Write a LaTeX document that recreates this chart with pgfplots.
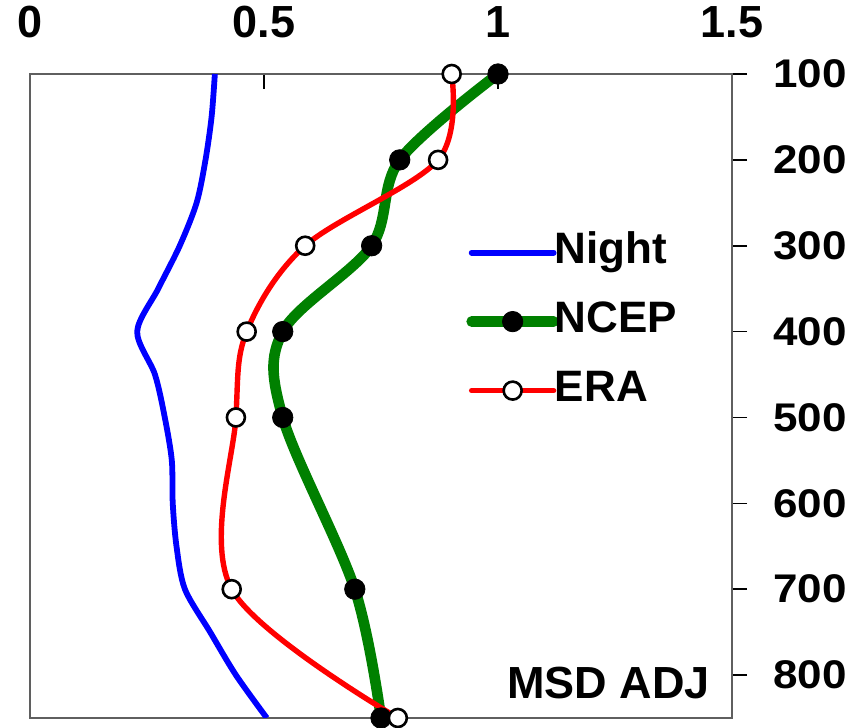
\documentclass[border=0pt]{standalone}
\usepackage{fontspec}
\setmainfont{Liberation Sans}
\usepackage{graphicx}
\usepackage{pgfplots}
\pgfplotsset{compat=1.18}
\newcommand\bigf{\fontsize{22}{26}\selectfont\bfseries}
\newcommand\topf{\fontsize{22.5}{26}\selectfont\bfseries}
\newcommand\rightf{\fontsize{20}{24}\selectfont\bfseries}
\newcommand\msdf{\fontsize{22.5}{26}\selectfont\bfseries}
\definecolor{axgray}{RGB}{95,95,95}
\definecolor{ncepgreen}{RGB}{0,128,0}
\begin{document}
\begin{tikzpicture}
\begin{axis}[
  scale only axis, width=351pt, height=322pt,
  xmin=0, xmax=1.5, ymin=100, ymax=850, y dir=reverse,
  xtick={0,0.5,1,1.5}, ytick={100,200,...,800},
  xticklabels={0,0.5,1,1.5},
  yticklabels={\scalebox{1.1}[1]{100},\scalebox{1.1}[1]{200},\scalebox{1.1}[1]{300},\scalebox{1.1}[1]{400},\scalebox{1.1}[1]{500},\scalebox{1.1}[1]{600},\scalebox{1.1}[1]{700},\scalebox{1.1}[1]{800}},
  xticklabel pos=upper, xtick pos=upper,
  yticklabel pos=right, ytick pos=right,
  tick align=inside, major tick length=7.5pt,
  tick style={black, line width=0.8pt},
  ytick style={xshift=7.5pt},
  /pgf/number format/assume math mode=true,
  xticklabel style={font=\topf, yshift=14.5pt},
  yticklabel style={font=\rightf, xshift=17pt},
  axis line style={draw=axgray, line width=1.3pt},
  legend style={draw=none, fill=none, at={(0.621,0.759)}, anchor=north west,
    font=\bigf, row sep=11.5pt, inner sep=0pt,
    nodes={inner sep=1pt, text height=16pt, text depth=5pt},
    /tikz/every odd column/.append style={column sep=-3pt},
    /tikz/every even column/.append style={column sep=0pt}},
  legend cell align=left,
  legend image code/.code={\draw[mark repeat=2,mark phase=2,line cap=round] plot coordinates {(0pt,0pt) (20.5pt,0pt) (41pt,0pt)};},
]
\addplot[blue, line width=2.9pt, smooth, tension=0.5, no marks] coordinates {
(0.395,100) (0.388,150) (0.375,200) (0.356,250) (0.320,300) (0.274,350)
(0.229,400) (0.267,450) (0.288,500) (0.303,550) (0.305,600) (0.313,650)
(0.331,700) (0.385,750) (0.440,800) (0.506,850)};
\addlegendentry{Night}
\addplot[ncepgreen, line width=5.3pt, smooth, tension=0.55, mark=*,
  mark size=5.1pt, mark options={fill=black, draw=black, line width=0.4pt}] coordinates {
(1.000,100) (0.790,200) (0.730,300) (0.540,400) (0.540,500) (0.694,700) (0.750,850)};
\addlegendentry{NCEP}
\addplot[red, line width=2.7pt, smooth, tension=0.55, mark=*,
  mark size=4.5pt, mark options={fill=white, draw=black, line width=1.3pt}] coordinates {
(0.901,100) (0.872,200) (0.588,300) (0.463,400) (0.440,500) (0.431,700) (0.786,850)};
\addlegendentry{ERA}
\node[anchor=base east, font=\msdf, inner sep=0pt] at (rel axis cs:0.969,0.031) {MSD ADJ};
\end{axis}
\pgfresetboundingbox
\path[use as bounding box] ([shift={(-15pt,-5pt)}]current axis.south west) rectangle ([shift={(67pt,37pt)}]current axis.north east);
\end{tikzpicture}
\end{document}
